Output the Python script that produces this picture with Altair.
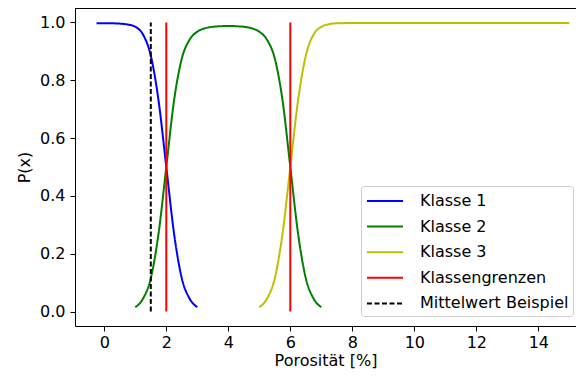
import altair as alt
import pandas as pd

# ---- data ----
series_names = ["Klasse 1", "Klasse 2", "Klasse 3", "Klassengrenzen", "Mittelwert Beispiel"]
series_colors = ["#0000ff", "#008000", "#bfbf00", "#ff0000", "#000000"]
series_dash = [[1, 0], [1, 0], [1, 0], [1, 0], [5, 2.5]]

k1_x = [-0.25, 0.0, 0.25, 0.5, 0.75, 1.0, 1.25, 1.5, 1.75, 2.0, 2.25, 2.5, 2.75, 3.0]
k1_y = [0.997, 0.997, 0.997, 0.996, 0.993, 0.985, 0.958, 0.885, 0.73, 0.5, 0.27, 0.115, 0.045, 0.015]

k2_x = [1.0, 1.25, 1.5, 1.75, 2.0, 2.25, 2.5, 2.75, 3.0, 3.25, 3.5, 3.75, 4.0,
        4.25, 4.5, 4.75, 5.0, 5.25, 5.5, 5.75, 6.0, 6.25, 6.5, 6.75, 7.0]
k2_y = [0.015, 0.045, 0.115, 0.27, 0.5, 0.73, 0.875, 0.94, 0.968, 0.98, 0.985, 0.987, 0.988,
        0.987, 0.985, 0.98, 0.968, 0.94, 0.875, 0.73, 0.5, 0.27, 0.115, 0.045, 0.015]

k3_x = [5.0, 5.25, 5.5, 5.75, 6.0, 6.25, 6.5, 6.75, 7.0, 7.25, 7.5, 8.0, 9.0, 10.0,
        11.0, 12.0, 13.0, 14.0, 15.0]
k3_y = [0.015, 0.045, 0.115, 0.27, 0.5, 0.73, 0.885, 0.958, 0.985, 0.994, 0.997, 0.998, 0.998,
        0.998, 0.998, 0.998, 0.998, 0.998, 0.998]

vline_series = ["Klassengrenzen", "Klassengrenzen", "Mittelwert Beispiel"]
vline_x = [2.0, 6.0, 1.5]
vline_y0 = [0.0, 0.0, 0.0]
vline_y1 = [1.0, 1.0, 1.0]

x_ticks = [0, 2, 4, 6, 8, 10, 12, 14]
y_ticks = [0.0, 0.2, 0.4, 0.6, 0.8, 1.0]

# ---- tables ----
rows = []
for name, xs, ys in [("Klasse 1", k1_x, k1_y), ("Klasse 2", k2_x, k2_y), ("Klasse 3", k3_x, k3_y)]:
    for i, (xv, yv) in enumerate(zip(xs, ys)):
        rows.append({"series": name, "x": xv, "y": yv, "order": i})
curves = pd.DataFrame(rows)
vlines = pd.DataFrame({"series": vline_series, "x": vline_x, "y0": vline_y0, "y1": vline_y1})

W, H = 501, 318
FONT = "DejaVu Sans"

color_scale = alt.Scale(domain=series_names, range=series_colors)
dash_scale = alt.Scale(domain=series_names, range=series_dash)
x_scale = alt.Scale(domain=[-0.945, 15.216], nice=False, zero=False)
y_scale = alt.Scale(domain=[-0.05, 1.05], nice=False, zero=False)

legend = alt.Legend(
    title=None, orient="none", legendX=286, legendY=178,
    symbolType="M-1.8,0H1.8", symbolSize=400, symbolStrokeWidth=2,
    labelFont=FONT, labelFontSize=16, labelColor="#000000", labelOffset=24,
    rowPadding=6.6, padding=4, symbolOffset=9,
    strokeColor="#cccccc", fillColor="rgba(255,255,255,0.85)", cornerRadius=3,
)

x_axis = alt.Axis(title="Porosität [%]", values=x_ticks, format="d", grid=False,
                  tickSize=5, labelPadding=3, titlePadding=2)
y_axis = alt.Axis(title="P(x)", values=y_ticks, format=".1f", grid=False,
                  tickSize=5, labelPadding=5, titlePadding=7)

lines = alt.Chart(curves).mark_line(strokeWidth=2, interpolate="monotone", clip=True).encode(
    x=alt.X("x:Q", scale=x_scale, axis=x_axis),
    y=alt.Y("y:Q", scale=y_scale, axis=y_axis),
    color=alt.Color("series:N", scale=color_scale, legend=legend),
    strokeDash=alt.StrokeDash("series:N", scale=dash_scale, legend=legend),
    order="order:Q",
    detail="series:N",
)

rules = alt.Chart(vlines).mark_rule(strokeWidth=2).encode(
    x=alt.X("x:Q", scale=x_scale),
    y=alt.Y("y0:Q", scale=y_scale),
    y2="y1:Q",
    color=alt.Color("series:N", scale=color_scale, legend=legend),
    strokeDash=alt.StrokeDash("series:N", scale=dash_scale, legend=legend),
)

top_border = alt.Chart(pd.DataFrame({"a": [0]})).mark_rule(color="#000000", strokeWidth=1).encode(
    x=alt.value(0), x2=alt.value(W), y=alt.value(0.5)
)

chart = alt.layer(lines, rules, top_border).properties(
    width=W, height=H,
    autosize=alt.AutoSizeParams(type="none"),
    padding={"left": 67, "top": 0, "right": 0, "bottom": 45},
).configure_view(stroke=None).configure_axis(
    labelFont=FONT, titleFont=FONT, labelFontSize=16, titleFontSize=16,
    labelColor="#000000", titleColor="#000000", titleFontWeight="normal",
    domainColor="#000000", tickColor="#000000", domainWidth=1, tickWidth=1,
)

chart.save("out.html", embed_options={"renderer": "svg", "actions": False})
